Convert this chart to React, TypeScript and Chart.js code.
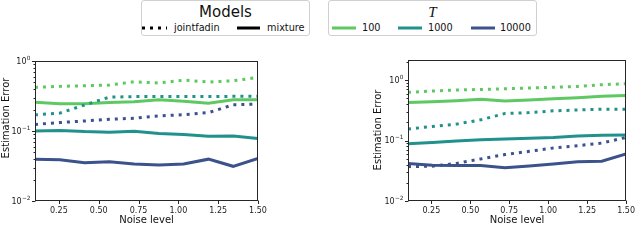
import React, { useEffect, useRef } from 'react';
import { Chart, registerables } from 'chart.js';

Chart.register(...registerables);

// ---------- data ----------
const noiseLevels = [0.1, 0.256, 0.411, 0.567, 0.722, 0.878, 1.033, 1.189, 1.344, 1.5];
const xTickValues = [0.25, 0.5, 0.75, 1.0, 1.25, 1.5];
const tValues = ['100', '1000', '10000'];
const modelNames = ['jointfadin', 'mixture'];

// left panel
const leftJoint100 = [0.42, 0.434, 0.443, 0.453, 0.505, 0.484, 0.533, 0.5, 0.522, 0.582];
const leftMix100 = [0.258, 0.245, 0.245, 0.256, 0.261, 0.279, 0.267, 0.25, 0.279, 0.279];
const leftJoint1000 = [0.17, 0.18, 0.235, 0.305, 0.31, 0.31, 0.31, 0.31, 0.313, 0.313];
const leftMix1000 = [0.1, 0.102, 0.098, 0.096, 0.0995, 0.092, 0.089, 0.084, 0.085, 0.078];
const leftJoint10000 = [0.124, 0.132, 0.139, 0.147, 0.152, 0.164, 0.171, 0.183, 0.237, 0.242];
const leftMix10000 = [0.0396, 0.0387, 0.0353, 0.0364, 0.0337, 0.0326, 0.0337, 0.0396, 0.0313, 0.0404];

// right panel
const rightJoint100 = [0.627, 0.66, 0.685, 0.7, 0.72, 0.74, 0.76, 0.787, 0.838, 0.87];
const rightMix100 = [0.424, 0.44, 0.455, 0.48, 0.45, 0.47, 0.49, 0.51, 0.54, 0.555];
const rightJoint1000 = [0.155, 0.171, 0.187, 0.22, 0.28, 0.29, 0.31, 0.32, 0.33, 0.33];
const rightMix1000 = [0.0887, 0.093, 0.098, 0.1035, 0.106, 0.109, 0.112, 0.119, 0.122, 0.123];
const rightJoint10000 = [0.037, 0.0377, 0.0418, 0.0497, 0.0586, 0.0663, 0.0753, 0.0822, 0.0908, 0.113];
const rightMix10000 = [0.0416, 0.0392, 0.0385, 0.0385, 0.0354, 0.038, 0.041, 0.0445, 0.0454, 0.06];

// ---------- styles ----------
const COLORS = ['#5ec962', '#21918c', '#3b528b'];
const FONT = "'DejaVu Sans', sans-serif";
const DOT_DASH = [3, 5];

const isMajor = (v: number) => {
  const e = Math.log10(v);
  return Math.abs(e - Math.round(e)) < 1e-6;
};
const isLogTick = (v: number) => {
  const p = Math.pow(10, Math.floor(Math.log10(v) + 1e-9));
  const m = v / p;
  return Math.abs(m - Math.round(m)) < 1e-6;
};

const framePlugin = {
  id: 'frame',
  afterDraw(chart: any, _args: any, opts: any) {
    const { ctx, chartArea: a, scales } = chart;
    ctx.save();
    ctx.strokeStyle = '#262626';
    ctx.lineWidth = 1;
    const L = Math.round(a.left) + 0.5;
    const R = Math.round(a.right) - 0.5;
    const T = Math.round(a.top) + 0.5;
    const B = Math.round(a.bottom) - 0.5;
    ctx.strokeRect(L, T, R - L, B - T);
    // ticks
    ctx.beginPath();
    scales.y.ticks.forEach((t: any) => {
      if (!isLogTick(t.value)) return;
      const p = Math.round(scales.y.getPixelForValue(t.value)) + 0.5;
      const len = isMajor(t.value) ? 3.5 : 2;
      ctx.moveTo(L - len, p);
      ctx.lineTo(L, p);
    });
    scales.x.ticks.forEach((t: any) => {
      const p = Math.round(scales.x.getPixelForValue(t.value)) + 0.5;
      ctx.moveTo(p, B);
      ctx.lineTo(p, B + 3.5);
    });
    ctx.stroke();
    // y major tick labels: 10 with superscript exponent
    ctx.fillStyle = '#1a1a1a';
    ctx.textAlign = 'right';
    ctx.textBaseline = 'middle';
    scales.y.ticks.forEach((t: any) => {
      if (!isMajor(t.value)) return;
      const p = scales.y.getPixelForValue(t.value);
      const e = Math.round(Math.log10(t.value));
      const expText = e < 0 ? '\u2212' + String(-e) : String(e);
      ctx.font = `5.8px ${FONT}`;
      const w = ctx.measureText(expText).width;
      const xr = L - 5;
      ctx.fillText(expText, xr, p - 3);
      ctx.font = `8px ${FONT}`;
      ctx.fillText('10', xr - w - 0.3, p + 0.5);
    });
    // y title
    ctx.fillStyle = '#111';
    ctx.font = `10px ${FONT}`;
    ctx.textAlign = 'center';
    ctx.textBaseline = 'middle';
    ctx.translate(opts.titleX, opts.titleY);
    ctx.rotate(-Math.PI / 2);
    ctx.fillText(opts.titleText, 0, 0);
    ctx.restore();
  },
};

type Panel = {
  joint: number[][];
  mix: number[][];
  yMax: number;
  padding: { left: number; right: number; top: number; bottom: number };
  titleX: number;
  titleY: number;
};

function makeDatasets(joint: number[][], mix: number[][]) {
  const ds: any[] = [];
  tValues.forEach((t, i) => {
    ds.push({
      label: `${modelNames[0]} T=${t}`,
      data: noiseLevels.map((x, k) => ({ x, y: joint[i][k] })),
      borderColor: COLORS[i],
      borderWidth: 3,
      borderDash: DOT_DASH,
      borderCapStyle: 'butt',
      pointRadius: 0,
      tension: 0,
      fill: false,
    });
  });
  tValues.forEach((t, i) => {
    ds.push({
      label: `${modelNames[1]} T=${t}`,
      data: noiseLevels.map((x, k) => ({ x, y: mix[i][k] })),
      borderColor: COLORS[i],
      borderWidth: 3,
      borderCapStyle: 'butt',
      pointRadius: 0,
      tension: 0,
      fill: false,
    });
  });
  return ds;
}

function PanelChart({ panel, left }: { panel: Panel; left: number }) {
  const ref = useRef<HTMLCanvasElement | null>(null);
  useEffect(() => {
    if (!ref.current) return;
    const chart = new Chart(ref.current, {
      type: 'line',
      data: { datasets: makeDatasets(panel.joint, panel.mix) },
      plugins: [framePlugin],
      options: {
        animation: false,
        responsive: false,
        devicePixelRatio: 1,
        layout: { padding: panel.padding },
        plugins: {
          legend: { display: false },
          tooltip: { enabled: false },
          frame: { titleX: panel.titleX, titleY: panel.titleY, titleText: 'Estimation Error' },
        } as any,
        scales: {
          x: {
            type: 'linear',
            min: 0.1,
            max: 1.5,
            afterBuildTicks: (s: any) => {
              s.ticks = xTickValues.map((v) => ({ value: v }));
            },
            afterFit: (s: any) => {
              s.height = 30;
            },
            grid: { display: true, drawOnChartArea: false, drawTicks: false, color: 'rgba(0,0,0,0)' },
            border: { display: false },
            ticks: {
              padding: 5,
              autoSkip: false,
              maxRotation: 0,
              color: '#1a1a1a',
              font: { family: FONT, size: 8 },
              callback: (v: any) => Number(v).toFixed(2),
            },
            title: {
              display: true,
              text: 'Noise level',
              color: '#111',
              font: { family: FONT, size: 10 },
              padding: { top: 0, bottom: 5 },
            },
          },
          y: {
            type: 'logarithmic',
            min: 0.01,
            max: panel.yMax,
            afterFit: (s: any) => {
              s.width = 35;
            },
            grid: { display: true, drawOnChartArea: false, drawTicks: false, color: 'rgba(0,0,0,0)' },
            border: { display: false },
            ticks: {
              padding: 5,
              autoSkip: false,
              font: { family: FONT, size: 8 },
              callback: () => '',
            },
          },
        },
      } as any,
    });
    return () => chart.destroy();
  }, [panel]);
  return (
    <canvas
      ref={ref}
      width={320}
      height={205}
      style={{ position: 'absolute', left, top: 40, width: 320, height: 205 }}
    />
  );
}

const leftPanel: Panel = {
  joint: [leftJoint100, leftJoint1000, leftJoint10000],
  mix: [leftMix100, leftMix1000, leftMix10000],
  yMax: 1,
  padding: { left: 0, right: 62, top: 21, bottom: 14 },
  titleX: 6,
  titleY: 78,
};
const rightPanel: Panel = {
  joint: [rightJoint100, rightJoint1000, rightJoint10000],
  mix: [rightMix100, rightMix1000, rightMix10000],
  yMax: 2.15,
  padding: { left: 53, right: 9, top: 20, bottom: 14 },
  titleX: 58.5,
  titleY: 90,
};

const legendText: React.CSSProperties = {
  position: 'absolute',
  fontFamily: FONT,
  fontSize: 9.7,
  lineHeight: '12px',
  top: 22,
  color: '#111',
  whiteSpace: 'nowrap',
};

function Sample({ x, w, color, dashed }: { x: number; w: number; color: string; dashed?: boolean }) {
  return (
    <svg style={{ position: 'absolute', left: x, top: 25, overflow: 'visible' }} width={w} height={6}>
      <line
        x1={0}
        y1={3}
        x2={w}
        y2={3}
        stroke={color}
        strokeWidth={3}
        strokeDasharray={dashed ? '3 5' : undefined}
      />
    </svg>
  );
}

const boxStyle: React.CSSProperties = {
  position: 'absolute',
  top: 0,
  height: 36,
  border: '1px solid #d0d0d0',
  borderRadius: 3,
  boxSizing: 'border-box',
  background: '#fff',
};

export default function App() {
  return (
    <div
      style={{
        position: 'fixed',
        left: 0,
        top: 0,
        width: 640,
        height: 245,
        background: '#fff',
        overflow: 'hidden',
      }}
    >
      <div style={{ ...boxStyle, left: 141, width: 169 }} />
      <div
        style={{
          position: 'absolute',
          left: 141,
          width: 169,
          top: 3,
          textAlign: 'center',
          fontFamily: FONT,
          fontSize: 15,
          lineHeight: '18px',
          color: '#111',
        }}
      >
        Models
      </div>
      <Sample x={142} w={25} color="#000" dashed />
      <div style={{ ...legendText, left: 174 }}>{modelNames[0]}</div>
      <Sample x={237} w={23} color="#000" />
      <div style={{ ...legendText, left: 267 }}>{modelNames[1]}</div>

      <div style={{ ...boxStyle, left: 328, width: 209 }} />
      <div
        style={{
          position: 'absolute',
          left: 328,
          width: 209,
          top: 3,
          textAlign: 'center',
          fontFamily: "'Liberation Serif', serif",
          fontStyle: 'italic',
          fontSize: 15,
          lineHeight: '18px',
          color: '#111',
        }}
      >
        T
      </div>
      <Sample x={332} w={24} color={COLORS[0]} />
      <div style={{ ...legendText, left: 362 }}>{tValues[0]}</div>
      <Sample x={398} w={24} color={COLORS[1]} />
      <div style={{ ...legendText, left: 428 }}>{tValues[1]}</div>
      <Sample x={471} w={24} color={COLORS[2]} />
      <div style={{ ...legendText, left: 500 }}>{tValues[2]}</div>

      <PanelChart panel={leftPanel} left={0} />
      <PanelChart panel={rightPanel} left={320} />
    </div>
  );
}
